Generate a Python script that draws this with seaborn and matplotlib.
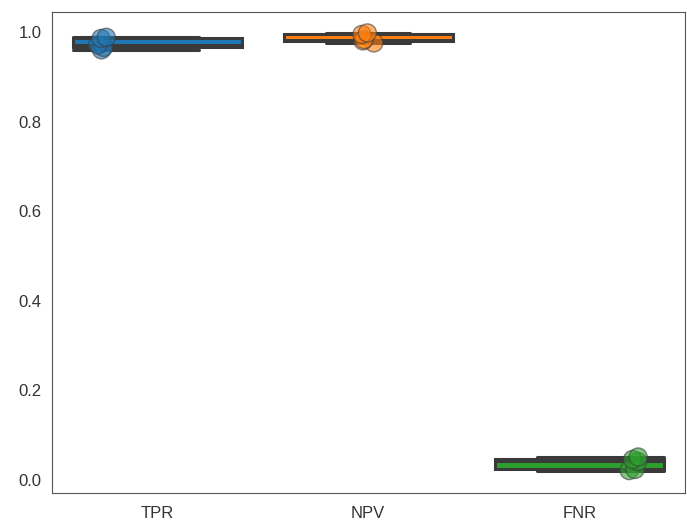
import numpy as np
import pandas as pd
import matplotlib
matplotlib.use("Agg")
import matplotlib.pyplot as plt
import seaborn as sns

# per-fold scores
metrics = ["TPR", "NPV", "FNR"]
tpr = [0.960, 0.9654, 0.971, 0.9855, 0.988]
npv = [0.9755, 0.980, 0.983, 0.9944, 0.9978]
fnr = [0.021, 0.0234, 0.0413, 0.0458, 0.0513]

df = pd.DataFrame({
    "metric": np.repeat(metrics, [len(tpr), len(npv), len(fnr)]),
    "value": tpr + npv + fnr,
})

sns.set_style("white")
plt.rcParams["font.family"] = ["Liberation Sans", "DejaVu Sans"]

np.random.seed(3)
fig = plt.figure(figsize=(6.87, 5.2), dpi=100)
ax = fig.add_axes([0.075, 0.052, 0.922, 0.925])

sns.boxplot(data=df, x="metric", y="value", hue="metric", palette="tab10",
            saturation=1, linewidth=2.2, linecolor="#3a3a3a", showfliers=False,
            legend=False, ax=ax)

# caps in the original sit off-centre for the outer two boxes
cap_spans = [(-0.4, 0.2), (-0.2, 0.2), (-0.2, 0.4)]
for i, box in enumerate(ax.containers):
    lo, hi = cap_spans[i]
    for cap in box.caps:
        cap.set_xdata([i + lo, i + hi])

sns.stripplot(data=df, x="metric", y="value", hue="metric", palette="tab10",
              dodge=True, size=13, alpha=0.6, linewidth=1, edgecolor="gray",
              legend=False, ax=ax)

ax.set_ylim(-0.029, 1.0446)
ax.set_xlabel("")
ax.set_ylabel("")
ax.tick_params(labelsize=12, colors="#333333")
ax.tick_params(axis="x", pad=6)
for s in ax.spines.values():
    s.set_color("#555555")

fig.savefig("out.png", dpi=100)
